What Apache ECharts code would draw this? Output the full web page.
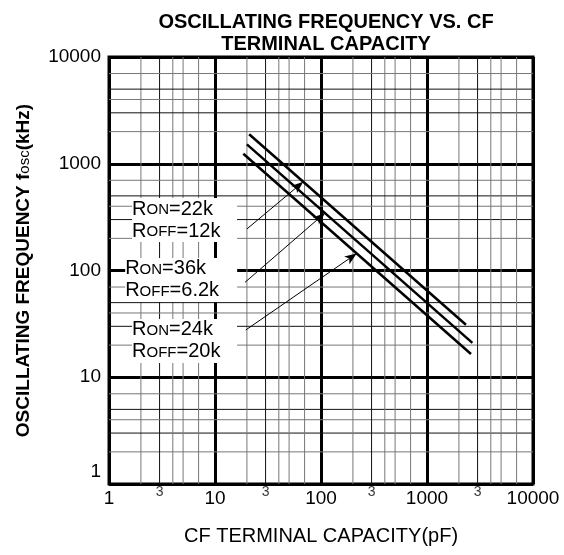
<!DOCTYPE html>
<html>
<head>
<meta charset="utf-8">
<script src="https://cdn.jsdelivr.net/npm/echarts@6/dist/echarts.min.js"></script>
<style>
html, body { margin: 0; padding: 0; background: #fff; }
#chart { width: 564px; height: 555px; }
</style>
</head>
<body>
<div id="chart"></div>
<script>
// CF terminal capacity (pF) vs oscillating frequency (kHz)
var capTop = [21, 2330];
var freqTop = [1890, 31];
var capMid = [20, 2680];
var freqMid = [1520, 21];
var capLow = [18.5, 2600];
var freqLow = [1240, 16.5];

// axis stuff
var axisMin = 1;
var axisMax = 10000;
var minorSteps = [2, 3, 4, 5, 7];
var smallTickLabels = [3, 30, 300, 3000];

// annotation labels (Ron / Roff)
var ronValues = ['22k', '36k', '24k'];
var roffValues = ['12k', '6.2k', '20k'];

var FONT = '"Liberation Sans", Arial, Helvetica, sans-serif';

function zip(a, b) {
    return a.map(function (v, i) { return [v, b[i]]; });
}
// point on a straight log-log line at capacity x
function onLine(cap, freq, x) {
    var lx0 = Math.log10(cap[0]), lx1 = Math.log10(cap[1]);
    var ly0 = Math.log10(freq[0]), ly1 = Math.log10(freq[1]);
    var ly = ly0 + (Math.log10(x) - lx0) * (ly1 - ly0) / (lx1 - lx0);
    return [x, Math.pow(10, ly)];
}

var curves = [[capTop, freqTop], [capMid, freqMid], [capLow, freqLow]];

// label block anchors (data coords, left edge / middle) and arrows
var noteAnchor = [[1.65, 297], [1.42, 81.5], [1.65, 21.9]];
var noteWidth = [105, 112, 105];
var arrowStart = [[20.0, 245], [19.2, 77.5], [19.5, 27.7]];
var arrowTargetCap = [68, 109, 217];

// minor grid values: [value, 0 = vertical / 1 = horizontal, step]
var minorGrid = [];
for (var d = 1; d < axisMax; d *= 10) {
    minorSteps.forEach(function (s) {
        minorGrid.push([s * d, 0, s]);
        minorGrid.push([s * d, 1, s]);
    });
}

var arrows = arrowStart.map(function (p, i) {
    var c = curves[i];
    return [{ coord: p }, { coord: onLine(c[0], c[1], arrowTargetCap[i]) }];
});

var noteRich = {
    a: { fontFamily: FONT, fontSize: 20, fill: '#000', lineHeight: 22 },
    b: { fontFamily: FONT, fontSize: 15, fill: '#000', verticalAlign: 'bottom', padding: [0, 0, 3, 0] }
};

var myChart = echarts.init(document.getElementById('chart'));
myChart.setOption({
    animation: false,
    title: {
        text: 'OSCILLATING FREQUENCY VS. CF\nTERMINAL CAPACITY',
        left: 321,
        textAlign: 'center',
        top: 6,
        textStyle: {
            fontFamily: FONT,
            fontSize: 20,
            fontWeight: 'bold',
            color: '#000',
            lineHeight: 22
        }
    },
    grid: {
        left: 109,
        top: 57,
        width: 424,
        height: 427,
        show: true,
        borderColor: '#000',
        borderWidth: 3
    },
    xAxis: {
        type: 'log',
        logBase: 10,
        min: axisMin,
        max: axisMax,
        axisLine: { show: false },
        axisTick: { show: false },
        axisLabel: {
            fontFamily: FONT,
            fontSize: 19,
            color: '#000',
            margin: 5,
            formatter: function (v) { return String(Math.round(v)); }
        },
        splitLine: { show: true, lineStyle: { color: '#000', width: 3 } },
        name: 'CF TERMINAL CAPACITY(pF)',
        nameLocation: 'middle',
        nameGap: 42,
        nameTextStyle: { fontFamily: FONT, fontSize: 20, color: '#000' }
    },
    yAxis: {
        type: 'log',
        logBase: 10,
        min: axisMin,
        max: axisMax,
        axisLine: { show: false },
        axisTick: { show: false },
        axisLabel: {
            fontFamily: FONT,
            fontSize: 19,
            color: '#000',
            margin: 8,
            formatter: function (v) {
                var s = String(Math.round(v));
                return Math.round(v) === axisMin ? '{low|' + s + '}' : s;
            },
            rich: {
                low: { fontFamily: FONT, fontSize: 19, color: '#000', padding: [0, 0, 24, 0] }
            }
        },
        splitLine: { show: true, lineStyle: { color: '#000', width: 3 } },
        name: '{b|OSCILLATING FREQUENCY f}{s|osc}{b|(kHz)}',
        nameLocation: 'middle',
        nameRotate: 90,
        nameGap: 76,
        nameTextStyle: {
            rich: {
                b: { fontFamily: FONT, fontSize: 19, fontWeight: 'bold', color: '#000', verticalAlign: 'bottom' },
                s: { fontFamily: FONT, fontSize: 15, color: '#000', verticalAlign: 'bottom', padding: [0, 0, 1, 0] }
            }
        }
    },
    series: [
        {
            // minor grid lines at 2,3,4,5,7 of each decade
            type: 'custom',
            data: minorGrid,
            z: 1,
            silent: true,
            renderItem: function (params, api) {
                var v = api.value(0);
                var vertical = api.value(1) === 0;
                var step = api.value(2);
                var dark = step === 3 || (!vertical && step === 5);
                var a = api.coord(vertical ? [v, axisMin] : [axisMin, v]);
                var b = api.coord(vertical ? [v, axisMax] : [axisMax, v]);
                return {
                    type: 'line',
                    shape: { x1: a[0], y1: a[1], x2: b[0], y2: b[1] },
                    style: { stroke: dark ? '#111' : '#777', lineWidth: 1 }
                };
            }
        },
        {
            // small "3" labels on x axis
            type: 'scatter',
            data: smallTickLabels.map(function (v) { return [v, axisMin]; }),
            symbolSize: 0,
            clip: false,
            silent: true,
            z: 2,
            label: {
                show: true,
                position: 'bottom',
                distance: 1,
                fontFamily: FONT,
                fontSize: 14,
                color: '#000',
                formatter: function (p) { return String(p.value[0]).charAt(0); }
            }
        },
        {
            // Ron / Roff labels on a white box that hides the grid
            type: 'custom',
            data: noteAnchor,
            z: 10,
            silent: true,
            clip: false,
            renderItem: function (params, api) {
                var i = params.dataIndex;
                var p = api.coord([api.value(0), api.value(1)]);
                return {
                    type: 'group',
                    children: [
                        {
                            type: 'rect',
                            shape: { x: p[0], y: p[1] - 22, width: noteWidth[i], height: 44 },
                            style: { fill: '#fff' }
                        },
                        {
                            type: 'text',
                            x: p[0],
                            y: p[1],
                            style: {
                                text: '{a|R}{b|ON}{a|=' + ronValues[i] + '}\n{a|R}{b|OFF}{a|=' + roffValues[i] + '}',
                                rich: noteRich,
                                align: 'left',
                                verticalAlign: 'middle',
                                fill: '#000'
                            }
                        }
                    ]
                };
            }
        },
        {
            type: 'line',
            data: zip(capTop, freqTop),
            symbol: 'none',
            z: 12,
            lineStyle: { color: '#000', width: 2.5 },
            markLine: {
                silent: true,
                z: 12,
                symbol: ['none', 'arrow'],
                symbolSize: [7, 12],
                label: { show: false },
                lineStyle: { color: '#000', width: 1, type: 'solid' },
                data: arrows
            }
        },
        {
            type: 'line',
            data: zip(capMid, freqMid),
            symbol: 'none',
            z: 12,
            lineStyle: { color: '#000', width: 2.5 }
        },
        {
            type: 'line',
            data: zip(capLow, freqLow),
            symbol: 'none',
            z: 12,
            lineStyle: { color: '#000', width: 2.5 }
        }
    ]
});
</script>
</body>
</html>
